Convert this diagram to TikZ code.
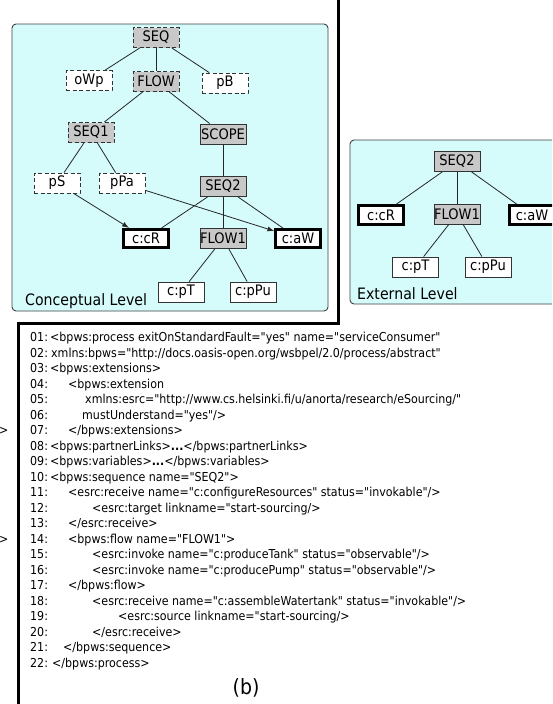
\documentclass[tikz,border=0pt]{standalone}
\usepackage{fontspec}
\setmainfont{DejaVu Sans}[FakeStretch=0.9]
\newfontfamily\codefam{DejaVu Sans}[FakeStretch=0.9]
\usetikzlibrary{arrows.meta}

\definecolor{lvlfill}{RGB}{213,251,251}
\definecolor{actfill}{RGB}{200,200,200}

\newcommand\codefont{\codefam\fontsize{12.3}{15.5}\selectfont}
\newcommand\lvlfont{\fontsize{15.7}{16}\selectfont}
\newcommand\codeln[3]{\makebox[20pt][l]{#1:}\hspace*{#2pt}#3}

\tikzset{
  act/.style={draw=black!80, line width=0.9pt, minimum width=46pt, minimum height=20pt,
    inner sep=0pt, font=\fontsize{14.5}{14.5}\selectfont},
  blk/.style={act, fill=actfill},
  wht/.style={act, fill=white},
  dsh/.style={dash pattern=on 4pt off 2.5pt},
  hvy/.style={draw=black, line width=2.6pt, minimum width=44.5pt, minimum height=18.5pt},
  lvl/.style={draw=black!75, fill=lvlfill, rounded corners=4pt, line width=0.9pt},
  link/.style={draw=black!85, line width=0.8pt},
  dep/.style={link, -{Latex[length=7pt,width=5pt]}},
}

\begin{document}
\begin{tikzpicture}[x=1pt,y=-1pt]
    \useasboundingbox (0,0) rectangle (552,704);
    \clip (0,0) rectangle (552,704);

    % рамки
    \draw [line width=3pt] (338,-2) -- (338,323) -- (18,323) -- (18,706);
    \draw [lvl] (12,24) rectangle (328,311);
    \draw [lvl] (350,140) rectangle (570,304);

    % концептуальный уровень
    \node [blk,dsh] (cseq) at (156,37.5) {SEQ};
    \node [wht,dsh] (cowp) at (89,80.5) {oWp};
    \node [blk,dsh] (cflow) at (156,81.5) {FLOW};
    \node [wht,dsh] (cpb) at (225,83) {pB};
    \node [blk,dsh] (cseqa) at (91,132.5) {SEQ1};
    \node [blk] (cscope) at (223,134) {SCOPE};
    \node [wht,dsh] (cps) at (57,183) {pS};
    \node [wht,dsh] (cppa) at (122,183) {pPa};
    \node [blk] (cseqb) at (223,186.5) {SEQ2};
    \node [wht,hvy] (ccr) at (146,238.5) {c:cR};
    \node [blk] (cflowa) at (223,238.5) {FLOW1};
    \node [wht,hvy] (caw) at (298,238.5) {c:aW};
    \node [wht] (cpt) at (181,292) {c:pT};
    \node [wht] (cppu) at (253,292) {c:pPu};
    \node [anchor=base west, font=\lvlfont, inner sep=0pt] (clevel) at (25,305.5) {Conceptual Level};

    \draw [link] (cseq) -- (cowp);
    \draw [link] (cseq) -- (cflow);
    \draw [link] (cseq) -- (cpb);
    \draw [link] (cflow) -- (cseqa);
    \draw [link] (cflow) -- (cscope);
    \draw [link] (cseqa) -- (cps);
    \draw [link] (cseqa) -- (cppa);
    \draw [link] (cscope) -- (cseqb);
    \draw [link] (cseqb) -- (ccr);
    \draw [link] (cseqb) -- (cflowa);
    \draw [link] (cseqb) -- (caw);
    \draw [link] (cflowa) -- (cpt);
    \draw [link] (cflowa) -- (cppu);
    \draw [dep] (cps) -- (ccr);
    \draw [dep] (cppa) -- (caw);

    % внешний уровень
    \node [blk] (eseqb) at (457,161.5) {SEQ2};
    \node [wht,hvy] (ecr) at (381,215) {c:cR};
    \node [blk] (eflowa) at (457,214) {FLOW1};
    \node [wht,hvy] (eaw) at (532,215) {c:aW};
    \node [wht] (ept) at (415.5,267) {c:pT};
    \node [wht] (eppu) at (488,267) {c:pPu};
    \node [anchor=base west, font=\lvlfont, inner sep=0pt] (elevel) at (357,299.5) {External Level};

    \draw [link] (eseqb) -- (ecr);
    \draw [link] (eseqb) -- (eflowa);
    \draw [link] (eseqb) -- (eaw);
    \draw [link] (eflowa) -- (ept);
    \draw [link] (eflowa) -- (eppu);

    % код
    \node [anchor=base east, font=\codefont, inner sep=0pt] (gta) at (8.5,434.5) {>};
    \node [anchor=base east, font=\codefont, inner sep=0pt] (gtb) at (8.5,543) {>};
    \node [anchor=north west, align=left, inner sep=0pt, font=\codefont] (code) at (30,332) {%
        \codeln{01}{0}{<bpws:process exitOnStandardFault="yes" name="serviceConsumer"}\\
        \codeln{02}{1}{xmlns:bpws="http://docs.oasis-open.org/wsbpel/2.0/process/abstract"}\\
        \codeln{03}{0}{<bpws:extensions>}\\
        \codeln{04}{18}{<bpws:extension}\\
        \codeln{05}{35}{xmlns:esrc="http://www.cs.helsinki.fi/u/anorta/research/eSourcing/"}\\
        \codeln{06}{32}{mustUnderstand="yes"/>}\\
        \codeln{07}{18}{</bpws:extensions>}\\
        \codeln{08}{0}{<bpws:partnerLinks>\textbf{...}</bpws:partnerLinks>}\\
        \codeln{09}{0}{<bpws:variables>\textbf{...}</bpws:variables>}\\
        \codeln{10}{0}{<bpws:sequence name="SEQ2">}\\
        \codeln{11}{18}{<esrc:receive name="c:configureResources" status="invokable"/>}\\
        \codeln{12}{42}{<esrc:target linkname="start-sourcing/>}\\
        \codeln{13}{18}{</esrc:receive>}\\
        \codeln{14}{18}{<bpws:flow name="FLOW1">}\\
        \codeln{15}{42}{<esrc:invoke name="c:produceTank" status="observable"/>}\\
        \codeln{16}{42}{<esrc:invoke name="c:producePump" status="observable"/>}\\
        \codeln{17}{18}{</bpws:flow>}\\
        \codeln{18}{42}{<esrc:receive name="c:assembleWatertank" status="invokable"/>}\\
        \codeln{19}{68}{<esrc:source linkname="start-sourcing/>}\\
        \codeln{20}{42}{</esrc:receive>}\\
        \codeln{21}{13}{</bpws:sequence>}\\
        \codeln{22}{2}{</bpws:process>}};
    \node [anchor=base, font=\fontsize{21}{21}\selectfont, inner sep=0pt] (cap) at (246,694.5) {(b)};
\end{tikzpicture}
\end{document}
